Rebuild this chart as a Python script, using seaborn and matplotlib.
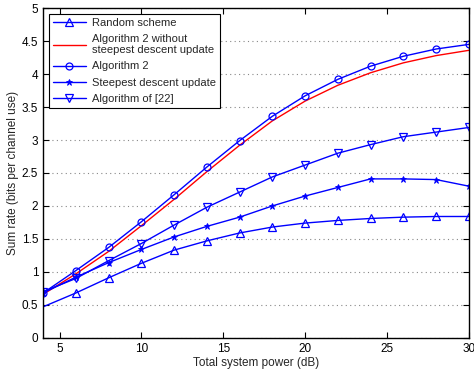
import matplotlib
matplotlib.use("Agg")
import matplotlib.pyplot as plt
import seaborn as sns
import pandas as pd

power_db = [4, 6, 8, 10, 12, 14, 16, 18, 20, 22, 24, 26, 28, 30]
random_scheme = [0.47, 0.68, 0.91, 1.13, 1.33, 1.47, 1.59, 1.68, 1.74, 1.78, 1.81, 1.83, 1.84, 1.84]
alg2_no_sd = [0.66, 0.97, 1.31, 1.70, 2.10, 2.52, 2.92, 3.29, 3.59, 3.83, 4.02, 4.17, 4.28, 4.36]
alg2 = [0.68, 1.02, 1.37, 1.76, 2.17, 2.59, 2.99, 3.36, 3.67, 3.92, 4.12, 4.27, 4.38, 4.45]
steepest = [0.68, 0.92, 1.14, 1.34, 1.53, 1.69, 1.83, 2.00, 2.15, 2.28, 2.41, 2.41, 2.40, 2.30]
alg22 = [0.70, 0.90, 1.17, 1.43, 1.71, 1.98, 2.21, 2.44, 2.62, 2.80, 2.93, 3.05, 3.12, 3.19]

series_names = ["Random scheme", "Algorithm 2 without\nsteepest descent update",
                "Algorithm 2", "Steepest descent update", "Algorithm of [22]"]
series_vals = [random_scheme, alg2_no_sd, alg2, steepest, alg22]

sns.set_style("ticks")
plt.rcParams['font.family'] = ['Liberation Sans', 'DejaVu Sans']

fig = plt.figure(figsize=(4.74, 3.70), dpi=100)
ax = fig.add_axes([0.091, 0.087, 0.898, 0.891])

styles = {
    "Random scheme": dict(color="#0000ff", marker="^"),
    "Algorithm 2 without\nsteepest descent update": dict(color="#ff0000", marker=None),
    "Algorithm 2": dict(color="#0000ff", marker="o"),
    "Steepest descent update": dict(color="#0000ff", marker="*"),
    "Algorithm of [22]": dict(color="#0000ff", marker="v"),
}

for name, vals in zip(series_names, series_vals):
    df = pd.DataFrame({"x": power_db, "y": vals})
    st = styles[name]
    kw = dict(color=st["color"], linewidth=1.0, label=name)
    if st["marker"] is not None:
        if st["marker"] == "*":
            kw.update(marker="*", markersize=5, markerfacecolor=st["color"],
                      markeredgecolor=st["color"], markeredgewidth=0.6)
        elif st["marker"] == "o":
            kw.update(marker="o", markersize=5, markerfacecolor="none",
                      markeredgecolor=st["color"], markeredgewidth=0.9)
        else:
            kw.update(marker=st["marker"], markersize=5.5, markerfacecolor="none",
                      markeredgecolor=st["color"], markeredgewidth=0.9)
        if name == "Random scheme":
            kw.update(markevery=list(range(1, len(power_db))))
    sns.lineplot(data=df, x="x", y="y", ax=ax, **kw)

ax.set_xlim(4, 30)
ax.set_ylim(0, 5)
ax.set_xticks([5, 10, 15, 20, 25, 30])
ax.set_yticks([0, 0.5, 1, 1.5, 2, 2.5, 3, 3.5, 4, 4.5, 5])
ax.set_yticklabels(["0", "0.5", "1", "1.5", "2", "2.5", "3", "3.5", "4", "4.5", "5"])
ax.yaxis.grid(True, linestyle=(0, (1, 3)), color="#888888", linewidth=0.8)
ax.set_axisbelow(True)
ax.tick_params(direction="in", top=True, right=True, labelsize=8.5, length=4, width=0.8, colors="black")
for s in ax.spines.values():
    s.set_linewidth(1.0)
    s.set_color("black")
ax.set_xlabel("Total system power (dB)", fontsize=8.5, labelpad=2)
ax.set_ylabel("Sum rate (bits per channel use)", fontsize=8.5, labelpad=2)

leg = ax.legend(loc="upper left", fontsize=8, frameon=True, fancybox=False,
                edgecolor="black", framealpha=1, borderaxespad=0.5,
                handlelength=3.0, labelspacing=0.55, borderpad=0.35, handletextpad=0.55)
leg.get_frame().set_linewidth(0.8)

fig.savefig("out.png", dpi=100)
